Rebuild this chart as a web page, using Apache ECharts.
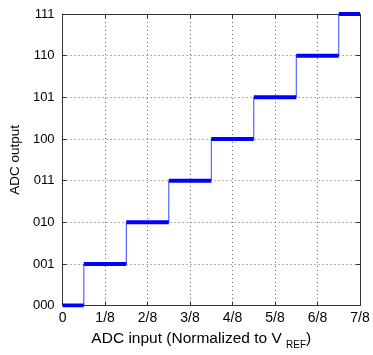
<!DOCTYPE html>
<html><head><meta charset="utf-8">
<script src="https://cdn.jsdelivr.net/npm/echarts@6/dist/echarts.min.js"></script>
<style>html,body{margin:0;padding:0;background:#fff}#c{width:373px;height:355px}</style>
</head><body><div id="c"></div>
<script>
// Data (x in units of 1/8 of V_REF)
const codeLabels = ['000','001','010','011','100','101','110','111'];
const xTickLabels = ['0','1/8','2/8','3/8','4/8','5/8','6/8','7/8'];
const levels = [0,1,2,3,4,5,6,7];
const segStart = [0,0.5,1.5,2.5,3.5,4.5,5.5,6.5];
const segEnd = [0.5,1.5,2.5,3.5,4.5,5.5,6.5,7];

// build series data
const thick = [];
const thin = [];
levels.forEach((lv,i)=>{
  thick.push([segStart[i],lv],[segEnd[i],lv],[null,null]);
  thin.push([segStart[i],lv],[segEnd[i],lv]);
});

const font = 'Liberation Sans, Arial, sans-serif';
const chart = echarts.init(document.getElementById('c'));
const axisLine = {show:true, onZero:false, lineStyle:{color:'#333', width:1}};
const tick = {show:true, inside:true, length:4, lineStyle:{color:'#333'}};
const splitLine = {show:true, lineStyle:{color:'#666', type:[1,3], width:1}};
chart.setOption({
  animation:false,
  grid:{left:62, right:13, top:14, bottom:44},
  xAxis:[{
    type:'value', min:0, max:7, interval:1,
    axisLine, axisTick:tick,
    axisLabel:{color:'#000', fontFamily:font, fontSize:14, margin:6,
      formatter:v=>xTickLabels[Math.round(v)]},
    splitLine,
    name:'ADC input (Normalized to V {sub|REF})',
    nameLocation:'middle', nameGap:15,
    nameTextStyle:{color:'#000', fontFamily:font, fontSize:15.5, verticalAlign:'top',
      padding:[0,20,0,0],
      rich:{sub:{fontSize:10, fontFamily:font, color:'#000', padding:[13,0,0,0]}}}
  },{
    type:'value', position:'top', min:0, max:7, interval:1,
    axisLine, axisTick:tick,
    axisLabel:{show:false}, splitLine:{show:false}
  }],
  yAxis:[{
    type:'value', min:0, max:7, interval:1,
    axisLine, axisTick:tick,
    axisLabel:{color:'#000', fontFamily:font, fontSize:13, margin:8,
      formatter:v=>codeLabels[Math.round(v)]},
    splitLine,
    name:'ADC output', nameLocation:'middle', nameGap:40, nameRotate:90,
    nameTextStyle:{color:'#000', fontFamily:font, fontSize:13.5}
  },{
    type:'value', position:'right', min:0, max:7, interval:1,
    axisLine, axisTick:tick,
    axisLabel:{show:false}, splitLine:{show:false}
  }],
  series:[
    {type:'line', data:thin, showSymbol:false, symbol:'none', clip:true,
     lineStyle:{color:'#3344ff', width:1}, z:2},
    {type:'line', data:thick, showSymbol:false, symbol:'none', connectNulls:false, clip:true,
     lineStyle:{color:'#0000ff', width:4, cap:'butt'}, z:3}
  ]
});
</script></body></html>
